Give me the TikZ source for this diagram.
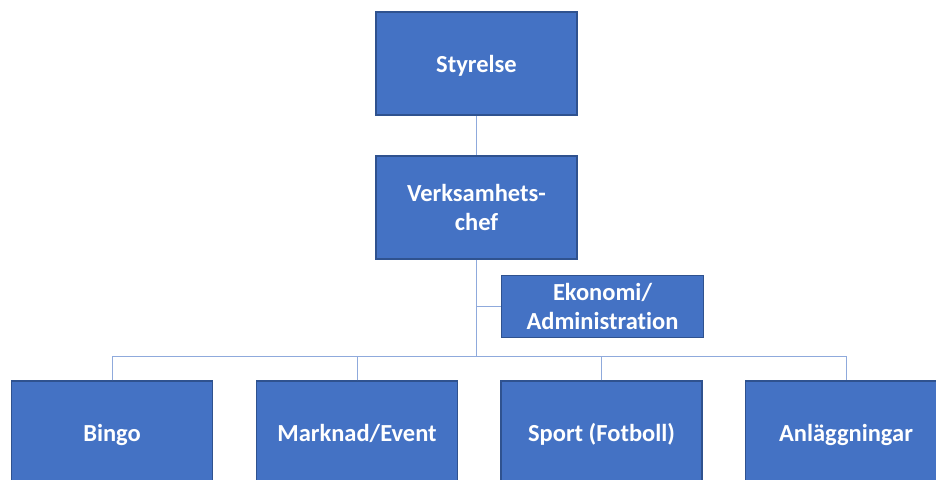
\documentclass[tikz,border=0pt]{standalone}
\usepackage{fontspec}
\setmainfont{Carlito}[Ligatures=NoCommon]
\definecolor{boxfill}{HTML}{4472C4}
\definecolor{boxdraw}{HTML}{2F528F}
\definecolor{linkcol}{HTML}{8FAADC}
\begin{document}
\begin{tikzpicture}[x=1pt,y=-1pt,
  orgbox/.style={rectangle, fill=boxfill, draw=boxdraw, line width=1.5pt,
    text=white, font=\fontsize{24.5}{29}\selectfont\bfseries, align=center,
    inner sep=0pt},
  bigbox/.style={orgbox, minimum width=201pt, minimum height=103pt},
  oneline/.style={text height=18.5pt, text depth=0pt},
  link/.style={draw=linkcol, line width=1pt}]
\useasboundingbox (0,0) rectangle (936,479);
\clip (0,0) rectangle (936,479);
\node[bigbox, oneline] (sty) at (476.5,63.5) {Styrelse};
\node[bigbox] (vc) at (476.5,207.5) {Verksamhets-\\chef};
\node[orgbox, minimum width=202pt, minimum height=62pt] (eko) at (602.5,306.5) {\raisebox{-2pt}{\parbox{200pt}{\centering Ekonomi/\\Administration}}};
\node[bigbox, oneline] (bingo) at (112,432.5) {Bingo};
\node[bigbox, oneline] (mark) at (357,432.5) {Marknad/Event};
\node[bigbox, oneline] (sport) at (601.5,432.5) {Sport (Fotboll)};
\node[bigbox, oneline] (anl) at (846,432.5) {Anläggningar};
\coordinate (hub) at (476.5,356);
\coordinate (ekj) at (476.5,306.5);
\draw[link] (sty.south) -- (vc.north);
\draw[link] (vc.south) -- (hub);
\draw[link] (ekj) -- (eko.west);
\draw[link] (bingo.north) -- (bingo.north |- hub) -- (anl.north |- hub) -- (anl.north);
\draw[link] (mark.north) -- (mark.north |- hub);
\draw[link] (sport.north) -- (sport.north |- hub);
\end{tikzpicture}
\end{document}
